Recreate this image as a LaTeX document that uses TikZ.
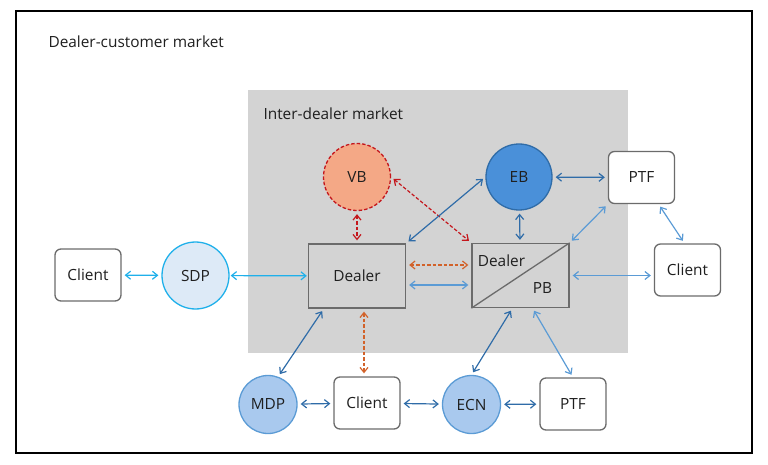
\documentclass[tikz,border=0pt]{standalone}
\usepackage{fontspec}
\setmainfont{Open Sans}
\usetikzlibrary{arrows.meta}
\definecolor{boxgray}{HTML}{6B6B6B}
\definecolor{zonegray}{HTML}{D3D3D3}
\definecolor{darkblue}{HTML}{2F6CA8}
\definecolor{lightblue}{HTML}{5B9BD5}
\definecolor{skyblue}{HTML}{1FB0EA}
\definecolor{dashorange}{HTML}{D2622A}
\definecolor{dashred}{HTML}{C4161C}
\definecolor{ebfill}{HTML}{4A90D9}
\definecolor{vbfill}{HTML}{F4A886}
\definecolor{platfill}{HTML}{A9C9EE}
\definecolor{sdpfill}{HTML}{DDEAF7}

\begin{document}
\begin{tikzpicture}[x=1pt, y=-1pt,
  every node/.style={font=\fontsize{15.4}{18}\selectfont, text=black!88},
  client/.style={draw=boxgray, line width=1.3pt, fill=white, rounded corners=6pt,
    minimum width=66pt, minimum height=52pt, inner sep=0pt},
  dealerbox/.style={draw=boxgray, line width=1.3pt, minimum width=97pt,
    minimum height=64pt, inner sep=0pt},
  venue/.style={circle, line width=1.3pt, inner sep=0pt},
  dotline/.style={dash pattern=on 3.5pt off 2pt},
  link/.style={<->, >={Straight Barb[length=5pt,width=8pt]}, line width=1.2pt,
    shorten <=3pt, shorten >=3pt}]
\useasboundingbox (0,0) rectangle (768,465);
\draw[line width=1.2pt] (16,11) rectangle (752,453);
\node[anchor=west] (dcm) at (45,42) {Dealer-customer market};
\fill[zonegray] (248,90) rectangle (628,353);
\node[anchor=west] (idm) at (260,114) {Inter-dealer market};

% inter-dealer nodes
\node[venue, draw=dashred, dotline, fill=vbfill, minimum size=67pt] (vb) at (357,177) {VB};
\node[venue, draw=darkblue, fill=ebfill, minimum size=66pt] (eb) at (519,177) {EB};
\node[dealerbox] (dealer) at (357,276) {Dealer};
\node[dealerbox] (dpb) at (520.5,275.5) {};
\draw[boxgray, line width=1.3pt] (dpb.south west) -- (dpb.north east);
\node (dpbd) at (501.5,261) {Dealer};
\node (dpbp) at (542.5,288) {PB};

% clients and platforms
\node[client] (cl) at (88,275) {Client};
\node[venue, draw=skyblue, fill=sdpfill, minimum size=67pt] (sdp) at (195.5,275.5) {SDP};
\node[client] (ptft) at (641.5,177.5) {PTF};
\node[client] (cr) at (687.5,270) {Client};
\node[venue, draw=lightblue, fill=platfill, minimum size=58pt] (mdp) at (268,404.5) {MDP};
\node[client] (cb) at (367,403) {Client};
\node[venue, draw=lightblue, fill=platfill, minimum size=58pt] (ecn) at (471.5,404.5) {ECN};
\node[client] (ptfb) at (573,404) {PTF};

% connectors
\draw[link, skyblue] (cl) -- (sdp);
\draw[link, skyblue, shorten <=1pt, shorten >=1pt] (sdp) -- (dealer);
\draw[link, dashred, dotline] (vb) -- (dealer);
\draw[link, dashred, dotline] (vb.east) -- (dpb.north west);
\draw[link, darkblue] (dealer.north east) -- (eb.west);
\draw[link, darkblue] (eb) -- (dpb);
\draw[link, darkblue] (eb) -- (ptft);
\draw[link, dashorange, dotline] ([yshift=11pt]dealer.east) -- ([yshift=11pt]dealer.east -| dpb.west);
\draw[link, lightblue] ([yshift=-9pt]dealer.east) -- ([yshift=-9pt]dealer.east -| dpb.west);
\draw[link, lightblue] (ptft.south west) -- (dpb.north east);
\draw[link, lightblue] ([xshift=17pt]ptft.south) -- ([xshift=-3pt]cr.north);
\draw[link, lightblue] (dpb.east) -- (dpb.east -| cr.west);
\draw[link, darkblue] ([xshift=16pt]dealer.south west) -- (mdp.70);
\draw[link, dashorange, dotline] ([xshift=7pt]dealer.south) -- ([xshift=7pt]dealer.south |- cb.north);
\draw[link, darkblue] ([xshift=-8pt]dpb.south) -- (ecn.north);
\draw[link, lightblue] ([xshift=12pt]dpb.south) -- (ptfb.north);
\draw[link, darkblue] (mdp) -- (cb);
\draw[link, darkblue] (cb) -- (ecn);
\draw[link, darkblue] (ecn) -- (ptfb);
\end{tikzpicture}
\end{document}
